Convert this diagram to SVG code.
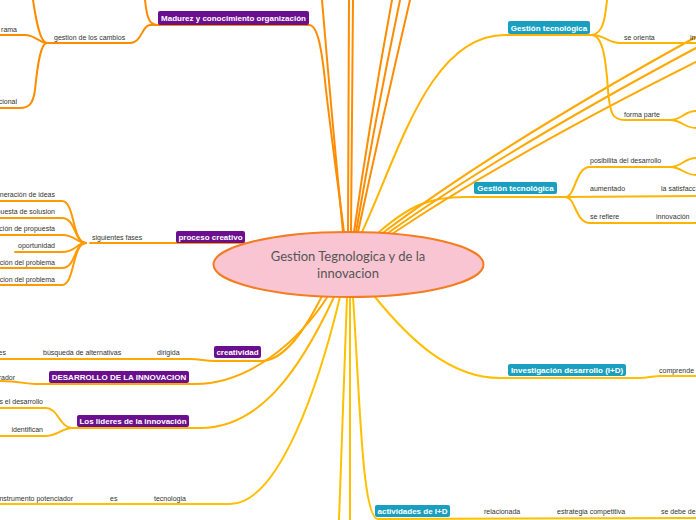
<svg xmlns="http://www.w3.org/2000/svg" width="696" height="520" viewBox="0 0 696 520">
<style>
.c{fill:none;stroke-width:2;stroke-linecap:round}
.o{stroke:#ff8c00}
.o2{stroke:#ff9a00}
.y1{stroke:#ffa800}
.y2{stroke:#ffb400}
.y3{stroke:#ffc000}
.lb{font-family:"Liberation Sans",Arial,sans-serif;font-size:7px;fill:#333}
.nt{font-family:"Liberation Sans",Arial,sans-serif;font-size:8px;font-weight:bold;fill:#fff;text-anchor:middle}
.pu{fill:#6a0f8e}
.te{fill:#1b9fc1}
.e{text-anchor:end}
</style>
<rect width="696" height="520" fill="#fff"/>
<g id="connectors">
  <!-- top orange lines -->
  <path class="c o" d="M150,25 L309,25"/>
  <path class="c o" d="M309,25 C318,25 322,50 326,90 C333,150 340,200 344,232"/>
  <path class="c o" d="M322,0 Q332,120 343,232"/>
  <path class="c o" d="M349,0 L348,232"/>
  <path class="c o" d="M353,0 L351,232"/>
  <path class="c o" d="M392,0 Q370,120 354,232"/>
  <path class="c o" d="M400,0 Q375,120 356,232"/>
  <path class="c o" d="M410,0 Q382,120 358,232"/>
  <path class="c o" d="M158,25 C150,25 147,20 145,0"/>
  <path class="c o" d="M150,25 C142,25 142,43 130,43 L47,43"/>
  <path class="c o" d="M47,43 C40,43 36,20 33,0"/>
  <path class="c o" d="M47,43 C40,43 35,35 25,35 L0,35"/>
  <path class="c o" d="M47,43 C40,43 37,70 35,90 C33,105 28,108 20,108 L0,108"/>
  <!-- proceso creativo -->
  <path class="c o2" d="M245,243 L90,243"/>
  <path class="c o2" d="M86,243 C72,243 75,201 62,201 L0,201"/>
  <path class="c o2" d="M86,243 C74,243 76,218 62,218 L0,218"/>
  <path class="c o2" d="M86,243 C76,243 76,235 62,235 L0,235"/>
  <path class="c o2" d="M86,243 C76,243 76,252 62,252 L15,252"/>
  <path class="c o2" d="M86,243 C74,243 76,268 62,268 L0,268"/>
  <path class="c o2" d="M86,243 C72,243 75,285 62,285 L0,285"/>
  <!-- lower left -->
  <path class="c y1" d="M0,359 L190,359 C200,359 205,361 215,361 L262,361 C285,360 305,330 322,296"/>
  <path class="c y1" d="M328,296 C300,340 250,384 195,384 L35,384 C25,384 20,381 0,381"/>
  <path class="c y2" d="M334,297 C300,370 260,428 200,428 L70,428"/>
  <path class="c y2" d="M72,428 C60,428 58,408 46,408 L0,408"/>
  <path class="c y2" d="M72,428 C62,428 58,436 46,436 L0,436"/>
  <path class="c y3" d="M340,297 C320,380 280,504 230,504 L0,504"/>
  <!-- bottom -->
  <path class="c y3" d="M347,297 Q343,410 339,520"/>
  <path class="c y3" d="M350,297 L350,520"/>
  <path class="c y3" d="M353,297 C360,400 362,519 378,519 L696,518"/>
  <path class="c y3" d="M375,297 C410,340 450,378 500,378 L640,378 C648,378 652,376 662,376 L696,376"/>
  <!-- right -->
  <path class="c y2" d="M378,233 C410,205 430,197 465,197 L565,197"/>
  <path class="c y2" d="M565,197 C576,197 575,167 590,167 L670,167"/>
  <path class="c y2" d="M670,167 C682,167 684,158 696,158"/>
  <path class="c y2" d="M670,167 C682,167 684,175 696,175"/>
  <path class="c y2" d="M565,197 L696,196"/>
  <path class="c y2" d="M565,197 C576,197 575,223 590,223 L696,223"/>
  <path class="c y1" d="M384,232 Q500,145 696,37"/>
  <path class="c y1" d="M388,233 Q505,150 696,48"/>
  <path class="c y1" d="M392,234 Q510,155 696,62"/>
  <path class="c y2" d="M362,232 C400,150 430,35 505,35 L592,35"/>
  <path class="c y2" d="M592,35 C603,33 605,20 607,0"/>
  <path class="c y2" d="M592,35 C605,35 608,43 620,43 L696,43"/>
  <path class="c y2" d="M592,35 C603,36 606,60 608,90 C610,115 613,120 625,120 L670,120"/>
  <path class="c y2" d="M670,120 C682,120 684,111 696,111"/>
  <path class="c y2" d="M670,120 C682,120 684,128 696,128"/>
</g>
<g id="center">
  <ellipse cx="348.5" cy="264.5" rx="135" ry="32.5" fill="#f9c5d2" stroke="#f57c1f" stroke-width="2"/>
  <text x="348" y="261" text-anchor="middle" font-family="Lato,'Open Sans',sans-serif" font-size="13" fill="#555">Gestion Tegnologica y de la</text>
  <text x="348" y="278" text-anchor="middle" font-family="Lato,'Open Sans',sans-serif" font-size="13" fill="#555">innovacion</text>
</g>
<g id="madurez">
  <rect class="pu" x="158" y="11" width="151" height="14" rx="2"/>
  <text class="nt" x="233.5" y="21">Madurez y conocimiento organización</text>
</g>
<g id="gestion-cambios">
  <text class="lb" x="54" y="40">gestion de los cambios</text>
  <text class="lb e" x="17" y="32">rama</text>
  <text class="lb e" x="17" y="104">cional</text>
</g>
<g id="gestion-tec-1">
  <rect class="te" x="508" y="21" width="82" height="13" rx="2"/>
  <text class="nt" x="549" y="30.5">Gestión tecnológica</text>
  <text class="lb" x="624" y="40">se orienta</text>
  <text class="lb" x="690" y="40">in</text>
  <text class="lb" x="624" y="117">forma parte</text>
</g>
<g id="gestion-tec-2">
  <rect class="te" x="474" y="182" width="83" height="12" rx="2"/>
  <text class="nt" x="515.5" y="191">Gestión tecnológica</text>
  <text class="lb" x="590" y="163">posibilita del desarrollo</text>
  <text class="lb" x="590" y="191">aumentado</text>
  <text class="lb" x="661" y="191">la satisfacc</text>
  <text class="lb" x="590" y="219">se refiere</text>
  <text class="lb" x="656" y="219">innovación</text>
</g>
<g id="investigacion">
  <rect class="te" x="508" y="364" width="118" height="12" rx="2"/>
  <text class="nt" x="567" y="373">Investigación desarrollo (I+D)</text>
  <text class="lb" x="659" y="373">comprende</text>
</g>
<g id="actividades">
  <rect class="te" x="375" y="505" width="75" height="12" rx="2"/>
  <text class="nt" x="412.5" y="514">actividades de I+D</text>
  <text class="lb" x="484" y="514">relacionada</text>
  <text class="lb" x="557" y="514">estrategia competitiva</text>
  <text class="lb" x="661" y="514">se debe de</text>
</g>
<g id="proceso-creativo">
  <rect class="pu" x="176" y="231" width="69" height="12" rx="2"/>
  <text class="nt" x="210.5" y="240">proceso creativo</text>
  <text class="lb" x="92" y="240">siguientes fases</text>
  <text class="lb e" x="55" y="197">neración de ideas</text>
  <text class="lb e" x="55" y="214">puesta de solusion</text>
  <text class="lb e" x="55" y="231">ción de propuesta</text>
  <text class="lb e" x="55" y="248">oportunidad</text>
  <text class="lb e" x="55" y="265">ción del problema</text>
  <text class="lb e" x="55" y="282">cion del problema</text>
</g>
<g id="creatividad">
  <rect class="pu" x="214" y="346" width="47" height="12" rx="2"/>
  <text class="nt" x="237.5" y="355">creatividad</text>
  <text class="lb" x="43" y="355">búsqueda de alternativas</text>
  <text class="lb" x="157" y="355">dirigida</text>
  <text class="lb e" x="6" y="355">es</text>
</g>
<g id="desarrollo">
  <rect class="pu" x="49" y="371" width="140" height="12" rx="2"/>
  <text class="nt" x="119" y="380">DESARROLLO DE LA INNOVACION</text>
  <text class="lb e" x="15" y="380">rador</text>
</g>
<g id="lideres">
  <rect class="pu" x="77" y="415" width="112" height="12" rx="2"/>
  <text class="nt" x="133" y="424">Los lideres de la innovación</text>
  <text class="lb e" x="43" y="404">s el desarrollo</text>
  <text class="lb e" x="43" y="432">identifican</text>
</g>
<g id="instrumento">
  <text class="lb e" x="73" y="501">nstrumento potenciador</text>
  <text class="lb" x="110" y="501">es</text>
  <text class="lb" x="154" y="501">tecnologia</text>
</g>
</svg>
